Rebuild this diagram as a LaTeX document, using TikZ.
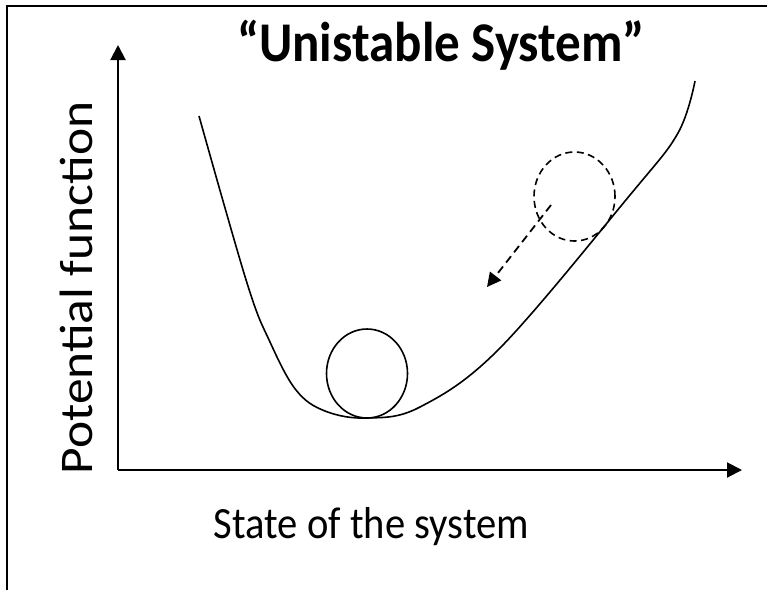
\documentclass[tikz,border=0pt]{standalone}
\usepackage{fontspec}
\setmainfont{Carlito}
\usetikzlibrary{arrows.meta,shapes.geometric}
\tikzset{
  axisline/.style={line width=2pt,-{Triangle[length=15pt,width=15pt]}},
  potcurve/.style={line width=1.6pt},
  ballshape/.style={ellipse,draw,line width=1.6pt,minimum width=81pt,minimum height=89pt,inner sep=0pt},
  ghostball/.style={ballshape,dashed,dash pattern=on 7pt off 4.5pt},
  fallarrow/.style={line width=1.8pt,dash pattern=on 8pt off 5pt,-{Triangle[length=14pt,width=14pt]}},
  framepart/.style={line width=2pt},
}
\begin{document}
\begin{tikzpicture}[x=1pt,y=-1pt]
\useasboundingbox (0,0) rectangle (767,590);
% frame (top and left edges)
\coordinate (fbl) at (7,590);
\coordinate (ftl) at (7,6);
\coordinate (ftr) at (767,6);
\draw[framepart] (fbl) -- (ftl) -- (ftr);
% axes
\coordinate (o) at (118,470);
\coordinate (ytip) at (118,45);
\coordinate (xtip) at (742,470);
\draw[axisline] (o) -- (ytip);
\draw[axisline] (o) -- (xtip);
% potential curve
\draw[potcurve] plot[smooth,tension=0.6] coordinates {
 (199,116) (247,283) (270,342) (296,390) (325,411) (367,418)
 (420,407) (500,348) (630,195) (678,133) (695,81)};
% balls
\node[ballshape] (ball) at (367,373.5) {};
\node[ghostball] (ghost) at (574.5,196.5) {};
\coordinate (fallend) at (487,287);
\draw[fallarrow] (551,205) -- (fallend);
% labels
\node[anchor=base,yscale=1.1,font=\fontsize{51}{54}\selectfont\bfseries] (title) at (441,61) {“Unistable System”};
\node[anchor=base,yscale=1.1,font=\fontsize{40.6}{44}\selectfont] (xlabel) at (371.5,538) {State of the system};
\node[anchor=base,rotate=90,xscale=1.1,font=\fontsize{46.8}{50}\selectfont] (ylabel) at (92,288) {Potential function};
\end{tikzpicture}
\end{document}
